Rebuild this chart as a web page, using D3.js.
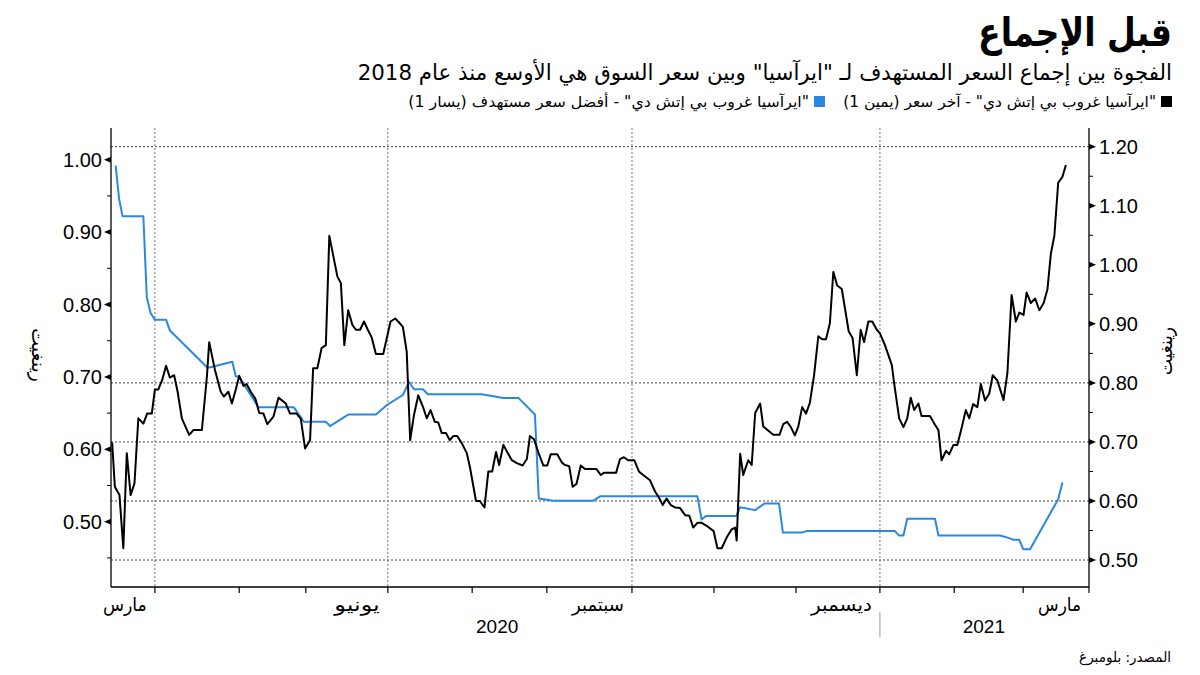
<!DOCTYPE html>
<html><head><meta charset="utf-8">
<script src="https://cdn.jsdelivr.net/npm/d3@7"></script>
<style>body{margin:0;background:#fff}svg{display:block}</style>
</head><body><svg id="c" width="1200" height="675"></svg>
<script>
// ---------- text ----------
const titleText = "قبل الإجماع";
const subtitleText = "الفجوة بين إجماع السعر المستهدف لـ \"ايرآسيا\" وبين سعر السوق هي الأوسع منذ عام 2018";
const legendLabels = ["\"ايرآسيا غروب بي إتش دي\" - آخر سعر (يمين 1)", "\"ايرآسيا غروب بي إتش دي\" - أفضل سعر مستهدف (يسار 1)"];
const sourceText = "المصدر: بلومبرغ";
const leftAxisTitle = "رينغيت";
const rightAxisTitle = "رينغيت";

// ---------- x axis (trading-day index) ----------
const monthTickIdx = [11.4, 33.3, 50.6, 71.9, 93.8, 113.2, 135.3, 156.6, 177.9, 199.7, 219.0, 236.9, 254];
const monthLabelIdx = [11.4, 71.9, 135.3, 199.7, 254];
const monthLabelText = ["مارس", "يونيو", "سبتمبر", "ديسمبر", "مارس"];
const monthLabelWidth = [44, 47, 53, 62, 43];
const vGridIdx = [11.4, 71.9, 135.3, 199.7];
const yearLabelText = ["2020", "2021"];
const yearLabelIdx = [100.3, 226.7];
const yearBreakIdx = [199.7];

// ---------- y axes ----------
const leftTicks = [0.5, 0.6, 0.7, 0.8, 0.9, 1.0];
const leftMinor = [0.45, 0.55, 0.65, 0.75, 0.85, 0.95];
const rightTicks = [0.5, 0.6, 0.7, 0.8, 0.9, 1.0, 1.1, 1.2];
const rightMinor = [0.55, 0.65, 0.75, 0.85, 0.95, 1.05, 1.15];
const rightGrid = [0.5, 0.6, 0.7, 0.8, 1.2];

// ---------- series: last price (right axis) ----------
const blackIdx = [0.3,1.0,2.2,3.2,4.1,5.1,6.1,7.1,8.4,9.4,10.6,11.4,12.3,13.3,14.3,15.3,16.4,17.3,18.4,20.3,21.4,23.6,24.9,25.5,27.0,28.5,29.3,30.5,31.4,32.5,33.3,34.4,35.2,36.3,37.5,38.5,39.6,40.6,42.2,43.5,45.4,46.5,48.2,49.3,50.4,51.7,52.5,53.6,54.7,55.8,56.7,58.8,59.7,60.6,61.6,62.7,63.6,64.7,65.7,66.7,67.7,68.8,70.7,72.6,73.8,74.6,75.8,76.8,77.7,78.7,79.8,81.0,82.0,83.0,84.1,85.0,85.9,87.0,88.0,88.9,89.9,91.1,92.4,93.2,94.8,95.8,97.0,98.0,99.0,100.0,100.8,101.9,102.9,104.1,105.4,106.9,108.0,108.8,109.9,111.0,112.3,113.3,114.2,115.9,117.1,117.9,119.0,119.9,120.9,122.0,123.1,126.1,127.2,128.1,131.2,132.2,133.2,134.3,135.9,137.1,138.2,140.0,141.3,142.3,143.3,144.3,145.4,146.5,147.8,149.1,150.2,151.2,152.3,153.4,154.7,156.5,157.5,158.6,159.9,161.2,162.1,162.5,163.4,164.2,165.5,166.4,167.3,168.6,169.4,172.0,173.6,174.6,175.6,176.5,177.6,178.5,179.5,180.5,181.5,182.6,183.7,184.7,185.7,186.7,187.6,188.6,189.8,191.6,192.6,193.7,194.7,195.6,196.7,197.7,198.9,199.7,201.0,202.8,203.4,204.7,205.8,206.8,207.7,208.6,209.7,210.5,212.7,214.0,214.9,215.7,216.9,217.7,218.8,219.8,220.9,222.0,222.9,223.9,225.0,225.9,227.0,228.1,229.0,230.2,231.8,232.8,233.9,235.0,235.9,237.0,237.8,238.9,240.0,241.1,242.2,243.2,244.1,245.0,246.0,247.1,248.0];
const blackVal = [0.699,0.624,0.610,0.520,0.681,0.610,0.630,0.740,0.731,0.748,0.748,0.789,0.789,0.805,0.829,0.809,0.813,0.785,0.740,0.712,0.720,0.720,0.810,0.869,0.822,0.785,0.777,0.785,0.765,0.791,0.812,0.795,0.798,0.785,0.773,0.749,0.748,0.730,0.743,0.775,0.765,0.748,0.748,0.739,0.689,0.703,0.825,0.825,0.859,0.864,1.049,0.980,0.969,0.864,0.923,0.898,0.890,0.890,0.904,0.890,0.877,0.849,0.849,0.904,0.909,0.904,0.895,0.853,0.703,0.746,0.779,0.760,0.740,0.754,0.734,0.733,0.715,0.715,0.703,0.710,0.710,0.698,0.681,0.658,0.600,0.600,0.589,0.650,0.650,0.683,0.661,0.695,0.683,0.669,0.664,0.660,0.671,0.710,0.704,0.682,0.660,0.660,0.679,0.679,0.665,0.661,0.659,0.624,0.629,0.660,0.654,0.654,0.644,0.648,0.648,0.671,0.674,0.669,0.669,0.650,0.644,0.635,0.616,0.606,0.593,0.604,0.593,0.589,0.588,0.576,0.575,0.555,0.563,0.563,0.558,0.549,0.520,0.520,0.538,0.552,0.555,0.533,0.680,0.644,0.669,0.661,0.749,0.765,0.726,0.712,0.712,0.730,0.734,0.726,0.711,0.726,0.759,0.748,0.766,0.813,0.879,0.874,0.874,0.901,0.988,0.965,0.959,0.887,0.876,0.813,0.890,0.869,0.904,0.904,0.890,0.884,0.864,0.830,0.799,0.740,0.725,0.740,0.775,0.754,0.765,0.744,0.744,0.729,0.720,0.669,0.685,0.679,0.695,0.695,0.723,0.754,0.740,0.764,0.759,0.798,0.770,0.782,0.813,0.804,0.771,0.816,0.949,0.904,0.919,0.915,0.953,0.935,0.943,0.923,0.935,0.958,1.019,1.049,1.139,1.149,1.169];

// ---------- series: best target price (left axis) ----------
const blueIdx = [1.2,2.1,3.0,8.4,9.3,10.3,11.4,14.3,15.3,25.0,25.6,31.5,32.4,33.3,38.3,47.5,50.1,55.8,56.9,61.6,68.8,71.6,75.8,77.4,78.7,81.0,82.3,96.3,101.9,105.8,110.1,111.1,114.9,125.3,127.0,152.3,153.4,154.5,162.4,163.4,167.3,169.7,173.5,174.5,179.4,180.7,203.6,204.6,205.8,206.8,214.0,214.9,230.9,233.5,234.3,235.9,236.9,238.7,246.0,247.1];
const blueVal = [0.992,0.946,0.922,0.922,0.810,0.788,0.779,0.779,0.764,0.713,0.713,0.721,0.701,0.700,0.658,0.658,0.638,0.638,0.632,0.648,0.648,0.661,0.675,0.693,0.683,0.683,0.676,0.676,0.671,0.671,0.648,0.532,0.529,0.529,0.535,0.535,0.503,0.508,0.508,0.520,0.516,0.525,0.525,0.485,0.485,0.487,0.487,0.481,0.481,0.504,0.504,0.481,0.481,0.477,0.475,0.475,0.462,0.462,0.531,0.554];

// ---------- layout ----------
const svg = d3.select("#c");
const L = 111, R = 1089, T = 128, B = 587;
const x = d3.scaleLinear().domain([0, 254]).range([L, R]);
const yL = d3.scaleLinear().domain([0.4098, 1.0438]).range([B, T]);
const yR = d3.scaleLinear().domain([0.4543, 1.2317]).range([B, T]);
const ARAB = "'DejaVu Sans', 'Noto Sans', sans-serif";
const NUM = "'Liberation Sans', Arial, sans-serif";
const BLUE = "#2b88e0";

function rtlText(parent, str, o) {
  const g = parent.append("g");
  const t = g.append("text").attr("x", 0).attr("y", 0)
    .style("direction", "rtl").attr("direction", "rtl")
    .attr("font-family", o.family || ARAB).attr("font-size", o.size)
    .attr("font-weight", o.weight || "normal").attr("fill", o.fill || "#000")
    .text(str);
  const bb = t.node().getBBox();
  const s = o.width ? o.width / bb.width : 1;
  if (o.right !== undefined) {
    g.attr("transform", `translate(${o.right - (bb.x + bb.width) * s},${o.y}) scale(${s},1)`);
  } else if (o.center !== undefined) {
    g.attr("transform", `translate(${o.center - (bb.x + bb.width / 2) * s},${o.y}) scale(${s},1)`);
  }
  return g;
}

// header
rtlText(svg, titleText, {right: 1172, y: 46, size: 40, weight: "bold", width: 194});
rtlText(svg, subtitleText, {right: 1172, y: 80, size: 22, width: 815});
svg.append("rect").attr("x", 1161).attr("y", 96).attr("width", 11).attr("height", 11).attr("fill", "#000");
rtlText(svg, legendLabels[0], {right: 1156, y: 107, size: 15, width: 313});
svg.append("rect").attr("x", 814).attr("y", 96).attr("width", 11).attr("height", 11).attr("fill", BLUE);
rtlText(svg, legendLabels[1], {right: 809, y: 107, size: 15, width: 401});

// gridlines
const grid = svg.append("g");
grid.selectAll(".hg").data(rightGrid).join("line")
  .attr("x1", L).attr("x2", R).attr("y1", d => yR(d)).attr("y2", d => yR(d))
  .attr("stroke", "#444").attr("stroke-width", 1).attr("stroke-dasharray", "2,2");
grid.selectAll(".vg").data(vGridIdx).join("line")
  .attr("x1", d => x(d)).attr("x2", d => x(d)).attr("y1", T).attr("y2", B)
  .attr("stroke", "#777").attr("stroke-width", 1).attr("stroke-dasharray", "2,2");

// lines
const blueData = blueIdx.map((d, i) => [d, blueVal[i]]);
const blackData = blackIdx.map((d, i) => [d, blackVal[i]]);
svg.append("path").datum(blueData).attr("fill", "none").attr("stroke", BLUE).attr("stroke-width", 2)
  .attr("stroke-linejoin", "round")
  .attr("d", d3.line().x(d => x(d[0])).y(d => yL(d[1])));
svg.append("path").datum(blackData).attr("fill", "none").attr("stroke", "#000").attr("stroke-width", 2)
  .attr("stroke-linejoin", "round")
  .attr("d", d3.line().x(d => x(d[0])).y(d => yR(d[1])));

// axes lines
const ax = svg.append("g").attr("stroke", "#000").attr("stroke-width", 1.3);
ax.append("line").attr("x1", L).attr("x2", L).attr("y1", T).attr("y2", B);
ax.append("line").attr("x1", R).attr("x2", R).attr("y1", T).attr("y2", B);
ax.append("line").attr("x1", L).attr("x2", R).attr("y1", B).attr("y2", B);

// left ticks
svg.selectAll(".lt").data(leftTicks).join("path")
  .attr("d", d => `M${L},${yL(d) - 3}L${L - 7},${yL(d)}L${L},${yL(d) + 3}Z`).attr("fill", "#000");
svg.selectAll(".lm").data(leftMinor).join("line")
  .attr("x1", L - 4).attr("x2", L).attr("y1", d => yL(d)).attr("y2", d => yL(d)).attr("stroke", "#000");
svg.selectAll(".ltl").data(leftTicks).join("text")
  .attr("x", L - 9).attr("y", d => yL(d) + 7).attr("text-anchor", "end")
  .attr("font-family", NUM).attr("font-size", 20).text(d => d.toFixed(2));

// right ticks
svg.selectAll(".rt").data(rightTicks).join("path")
  .attr("d", d => `M${R},${yR(d) - 3}L${R + 7},${yR(d)}L${R},${yR(d) + 3}Z`).attr("fill", "#000");
svg.selectAll(".rm").data(rightMinor).join("line")
  .attr("x1", R).attr("x2", R + 4).attr("y1", d => yR(d)).attr("y2", d => yR(d)).attr("stroke", "#000");
svg.selectAll(".rtl").data(rightTicks).join("text")
  .attr("x", R + 10).attr("y", d => yR(d) + 7).attr("text-anchor", "start")
  .attr("font-family", NUM).attr("font-size", 20).text(d => d.toFixed(2));

// axis titles
const lt = svg.append("g").attr("transform", "translate(38,355) rotate(90)");
rtlText(lt, leftAxisTitle, {center: 0, y: 6, size: 19, width: 54});
const rt = svg.append("g").attr("transform", "translate(1166,351) rotate(-90)");
rtlText(rt, rightAxisTitle, {center: 0, y: 6, size: 19, width: 48});

// x ticks
svg.selectAll(".xt").data(monthTickIdx).join("line")
  .attr("x1", d => x(d)).attr("x2", d => x(d)).attr("y1", B).attr("y2", B + 6)
  .attr("stroke", "#000").attr("stroke-width", 1.2);
monthLabelIdx.forEach((d, i) => {
  rtlText(svg, monthLabelText[i], {right: x(d) - 8, y: 611, size: 19, width: monthLabelWidth[i]});
});
yearLabelIdx.forEach((d, i) => {
  svg.append("text").attr("x", x(d)).attr("y", 633).attr("text-anchor", "middle")
    .attr("font-family", NUM).attr("font-size", 19).text(yearLabelText[i]);
});
svg.selectAll(".yb").data(yearBreakIdx).join("line")
  .attr("x1", d => x(d)).attr("x2", d => x(d)).attr("y1", 612).attr("y2", 637)
  .attr("stroke", "#999").attr("stroke-width", 1);

// source
rtlText(svg, sourceText, {right: 1171, y: 662, size: 14, width: 92});
</script></body></html>
